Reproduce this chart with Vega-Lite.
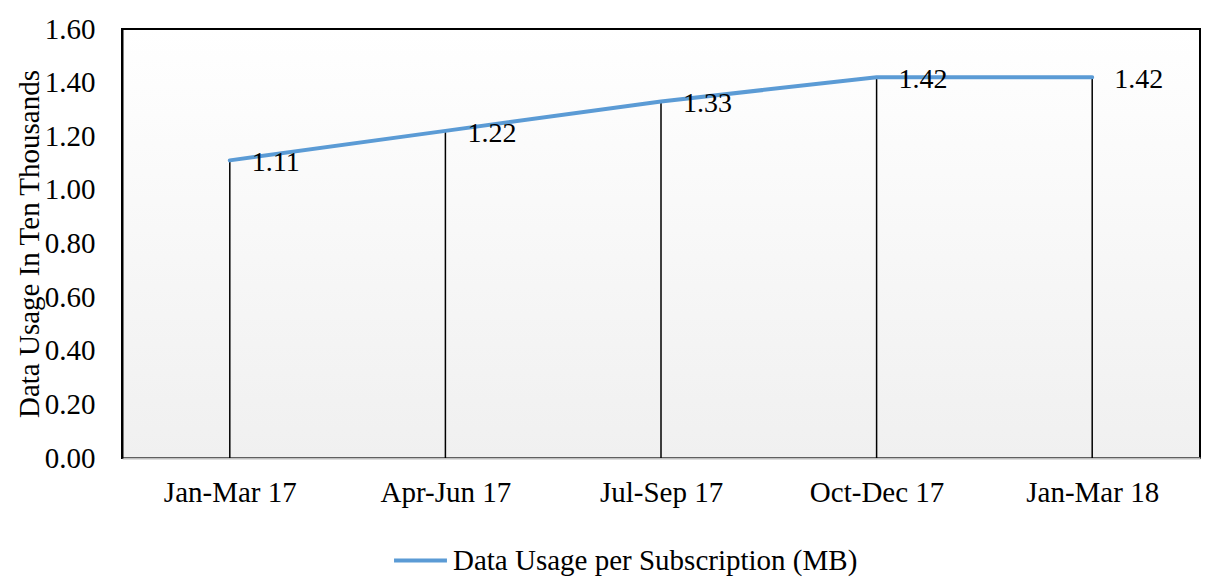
{
  "$schema": "https://vega.github.io/schema/vega-lite/v6.json",
  "width": 1078,
  "height": 429,
  "autosize": {"type": "none"},
  "padding": {"left": 122, "top": 29, "right": 25, "bottom": 122},
  "background": "white",
  "config": {
    "font": "Liberation Serif",
    "view": {
      "stroke": "black",
      "strokeWidth": 2,
      "fill": {
        "gradient": "linear",
        "x1": 0, "y1": 0, "x2": 0, "y2": 1,
        "stops": [
          {"offset": 0, "color": "#ffffff"},
          {"offset": 1, "color": "#f0f0f0"}
        ]
      }
    }
  },
  "data": {
    "values": [
      {"quarter": "Jan-Mar 17", "value": 1.11, "series": "Data Usage per Subscription (MB)"},
      {"quarter": "Apr-Jun 17", "value": 1.22, "series": "Data Usage per Subscription (MB)"},
      {"quarter": "Jul-Sep 17", "value": 1.33, "series": "Data Usage per Subscription (MB)"},
      {"quarter": "Oct-Dec 17", "value": 1.42, "series": "Data Usage per Subscription (MB)"},
      {"quarter": "Jan-Mar 18", "value": 1.42, "series": "Data Usage per Subscription (MB)"}
    ]
  },
  "encoding": {
    "x": {
      "field": "quarter",
      "type": "ordinal",
      "sort": null,
      "scale": {"type": "point", "padding": 0.5},
      "axis": {
        "title": null,
        "ticks": false,
        "labelAngle": 0,
        "labelFontSize": 29,
        "labelColor": "black",
        "labelPadding": 20,
        "domainColor": "#bfbfbf",
        "domainWidth": 2,
        "grid": false
      }
    },
    "y": {
      "field": "value",
      "type": "quantitative",
      "scale": {"domain": [0, 1.6], "nice": false},
      "axis": {
        "title": "Data Usage In Ten Thousands",
        "titleFontSize": 29,
        "titleFontWeight": "normal",
        "titleColor": "black",
        "titlePadding": 0,
        "values": [0, 0.2, 0.4, 0.6, 0.8, 1.0, 1.2, 1.4, 1.6],
        "format": ".2f",
        "ticks": false,
        "grid": false,
        "labelFontSize": 29,
        "labelColor": "black",
        "labelPadding": 27,
        "domainColor": "black",
        "domainWidth": 2
      }
    }
  },
  "layer": [
    {
      "mark": {"type": "rule", "color": "black", "strokeWidth": 1.5},
      "encoding": {"y2": {"datum": 0}}
    },
    {
      "mark": {"type": "line", "strokeWidth": 4, "strokeCap": "round", "strokeJoin": "round"},
      "encoding": {
        "color": {
          "field": "series",
          "type": "nominal",
          "scale": {"range": ["#5B9BD5"]},
          "legend": {
            "title": null,
            "orient": "none",
            "legendX": 270,
            "legendY": 503,
            "symbolType": "stroke",
            "symbolSize": 2800,
            "symbolStrokeWidth": 4,
            "labelFontSize": 29,
            "labelColor": "black",
            "labelOffset": 4,
            "labelLimit": 600
          }
        }
      }
    },
    {
      "mark": {"type": "text", "align": "left", "baseline": "middle", "dx": 22, "dy": 3, "fontSize": 28, "color": "black"},
      "encoding": {"text": {"field": "value", "type": "quantitative", "format": ".2f"}}
    }
  ]
}
